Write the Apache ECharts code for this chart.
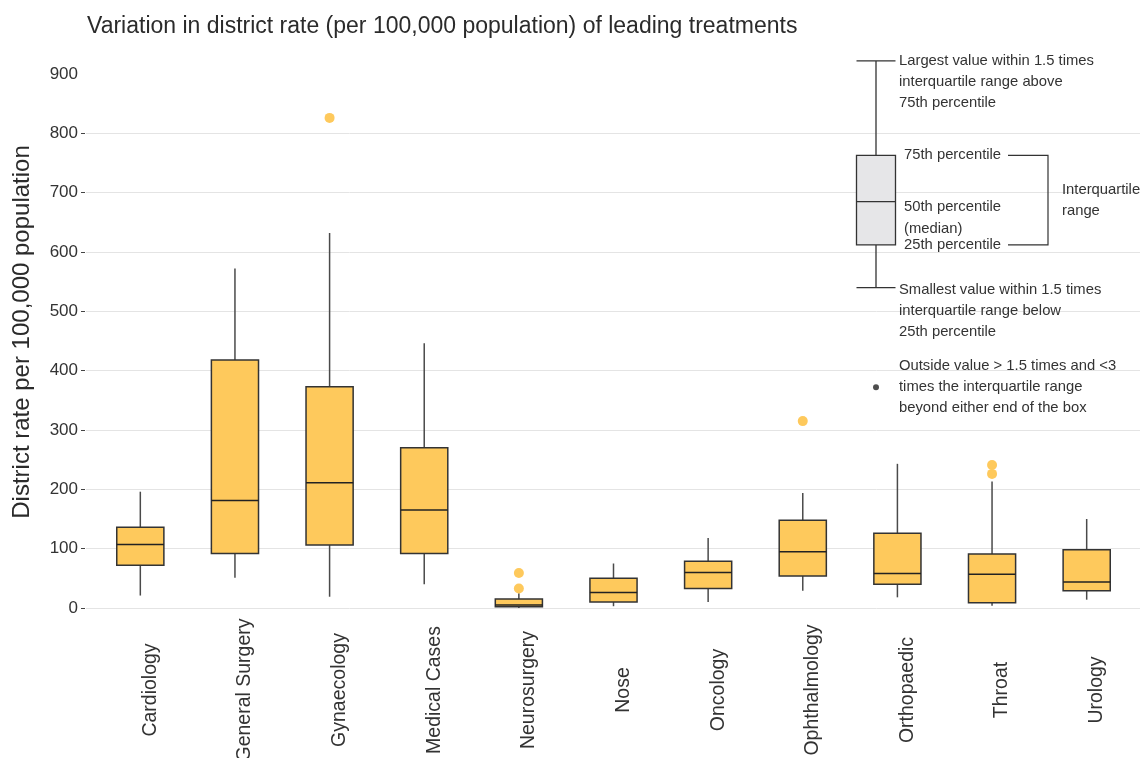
<!DOCTYPE html>
<html>
<head>
<meta charset="utf-8">
<script src="https://cdn.jsdelivr.net/npm/echarts@6/dist/echarts.min.js"></script>
<style>
  html, body { margin: 0; padding: 0; background: #fff; }
  #chart { width: 1145px; height: 758px; }
</style>
</head>
<body>
<div id="chart"></div>
<script>
// Treatment groups along the x axis
const categories = ['Cardiology', 'General Surgery', 'Gynaecology', 'Medical Cases', 'Neurosurgery',
  'Nose', 'Oncology', 'Ophthalmology', 'Orthopaedic', 'Throat', 'Urology'];

// Box statistics per treatment (rate per 100,000 population)
const whiskerLow  = [21, 51, 19, 40, 0, 3, 10, 29, 18, 4, 14];
const quartile1   = [72, 92, 106, 92, 2, 10, 33, 54, 40, 9, 29];
const medians     = [107, 181, 211, 165, 5, 26, 60, 95, 58, 57, 44];
const quartile3   = [136, 418, 373, 270, 15, 50, 79, 148, 126, 91, 98];
const whiskerHigh = [196, 572, 632, 446, 25, 75, 118, 194, 243, 213, 150];

// Outside values: category index and rate
const outlierCategory = [2, 4, 4, 7, 9, 9];
const outlierValue    = [826, 59, 33, 315, 241, 226];

// Key box: [low whisker, 25th, 50th, 75th, high whisker] and the outside-value dot
const keyBox = [540, 612, 685, 763, 922];
const keyDot = 372;

// Value axis ticks
const yTicks = [0, 100, 200, 300, 400, 500, 600, 700, 800, 900];

const FONT = '"Liberation Sans", Arial, Helvetica, sans-serif';
const BOX_FILL = '#fec95c';
const TEXT = '#333333';

const boxData = categories.map((c, i) =>
  [i, whiskerLow[i], quartile1[i], medians[i], quartile3[i], whiskerHigh[i]]);
const outlierData = outlierCategory.map((c, i) => [c, outlierValue[i]]);

// No line at the top tick (900)
const gridColors = yTicks.map((t, i) => i === yTicks.length - 1 ? 'rgba(0,0,0,0)' : '#e4e4e4');
const tickColors = yTicks.map((t, i) => i === yTicks.length - 1 ? 'rgba(0,0,0,0)' : '#444');

const chart = echarts.init(document.getElementById('chart'), null, { renderer: 'canvas' });

const gridBase = { containLabel: false, outerBoundsMode: 'none' };

const option = {
  animation: false,
  backgroundColor: '#ffffff',
  title: {
    text: 'Variation in district rate (per 100,000 population) of leading treatments',
    left: 82, top: 10,
    textStyle: { fontFamily: FONT, fontSize: 23, fontWeight: 'normal', color: '#2b2b2b' }
  },
  grid: [
    Object.assign({ left: 86, right: 5, top: 74, bottom: 150 }, gridBase),        // gridlines + y labels
    Object.assign({ left: 93, right: 11, top: 74, bottom: 150 }, gridBase),       // boxes
    Object.assign({ left: 856, width: 40, top: 44.33, bottom: 328 }, gridBase),   // key box
    Object.assign({ left: 81, width: 4, top: 74, bottom: 150 }, gridBase)         // y tick marks
  ],
  xAxis: [
    { gridIndex: 0, type: 'value', show: false, min: 0, max: 1 },
    {
      gridIndex: 1, type: 'category', data: categories, boundaryGap: true,
      axisLine: { show: false }, axisTick: { show: false }, splitLine: { show: false },
      axisLabel: {
        interval: 0, rotate: 90, margin: 82, align: 'center', verticalAlign: 'top',
        fontFamily: FONT, fontSize: 19.5, color: TEXT
      }
    },
    { gridIndex: 2, type: 'category', data: [''], show: false },
    { gridIndex: 3, type: 'value', show: false, min: 0, max: 1 }
  ],
  yAxis: [
    {
      gridIndex: 0, type: 'value', min: 0, max: 900, interval: 100,
      axisLine: { show: false }, axisTick: { show: false },
      axisLabel: { margin: 8, fontFamily: FONT, fontSize: 17, color: TEXT },
      splitLine: { show: true, lineStyle: { color: gridColors, width: 1 } }
    },
    { gridIndex: 1, type: 'value', min: 0, max: 900, show: false },
    { gridIndex: 2, type: 'value', min: 300, max: 950, show: false },
    {
      gridIndex: 3, type: 'value', min: 0, max: 900, interval: 100,
      axisLine: { show: false }, axisTick: { show: false }, axisLabel: { show: false },
      splitLine: { show: true, lineStyle: { color: tickColors, width: 1 } }
    }
  ],
  series: [
    {
      name: 'rates', type: 'custom', xAxisIndex: 1, yAxisIndex: 1,
      data: boxData,
      encode: { x: 0, y: [1, 2, 3, 4, 5] },
      renderItem: function (params, api) {
        const x = api.value(0);
        const lo = api.coord([x, api.value(1)]);
        const q1 = api.coord([x, api.value(2)]);
        const md = api.coord([x, api.value(3)]);
        const q3 = api.coord([x, api.value(4)]);
        const hi = api.coord([x, api.value(5)]);
        const half = api.size([1, 0])[0] * 0.249;
        const whisker = { stroke: '#4a4a4a', lineWidth: 1.5 };
        return {
          type: 'group',
          children: [
            { type: 'line', shape: { x1: lo[0], y1: lo[1], x2: q1[0], y2: q1[1] }, style: whisker },
            { type: 'line', shape: { x1: q3[0], y1: q3[1], x2: hi[0], y2: hi[1] }, style: whisker },
            {
              type: 'rect',
              shape: { x: q3[0] - half, y: q3[1], width: 2 * half, height: q1[1] - q3[1] },
              style: { fill: BOX_FILL, stroke: '#333', lineWidth: 1.5 }
            },
            {
              type: 'line',
              shape: { x1: md[0] - half, y1: md[1], x2: md[0] + half, y2: md[1] },
              style: { stroke: '#222', lineWidth: 1.5 }
            }
          ]
        };
      },
      z: 2
    },
    {
      name: 'outside', type: 'scatter', xAxisIndex: 1, yAxisIndex: 1,
      data: outlierData, symbol: 'circle', symbolSize: 10,
      itemStyle: { color: BOX_FILL, opacity: 1 }, z: 3
    },
    {
      name: 'key', type: 'boxplot', xAxisIndex: 2, yAxisIndex: 2,
      data: [keyBox], boxWidth: [39, 39],
      itemStyle: { color: '#e6e6e8', borderColor: '#333', borderWidth: 1.3 },
      z: 2
    },
    {
      name: 'keyDot', type: 'scatter', xAxisIndex: 2, yAxisIndex: 2,
      data: [[0, keyDot]], symbolSize: 6,
      itemStyle: { color: '#222' }, z: 3
    }
  ]
};

chart.setOption(option);

// Key annotations placed from the key box's own values
const px = v => chart.convertToPixel({ xAxisIndex: 2, yAxisIndex: 2 }, [0, v]);
const pHigh = px(keyBox[4]), pQ3 = px(keyBox[3]), pMed = px(keyBox[2]), pQ1 = px(keyBox[1]), pLow = px(keyBox[0]);
const pDot = px(keyDot);
const textX = pHigh[0] + 23;
const innerX = pHigh[0] + 28;
const LINE = 21;

function label(text, x, y) {
  return {
    type: 'text', x: x, y: y, silent: true,
    style: { text: text, fill: TEXT, fontFamily: FONT, fontSize: 14.8, verticalAlign: 'middle', align: 'left' }
  };
}

const bracketX1 = innerX + 104, bracketX2 = innerX + 144;

chart.setOption({
  graphic: [
    {
      type: 'text', x: 22, y: 332, rotation: Math.PI / 2, silent: true,
      style: {
        text: 'District rate per 100,000 population', fill: '#2b2b2b',
        fontFamily: FONT, fontSize: 24, align: 'center', verticalAlign: 'middle'
      }
    },
    label('Largest value within 1.5 times', textX, pHigh[1]),
    label('interquartile range above', textX, pHigh[1] + LINE),
    label('75th percentile', textX, pHigh[1] + 2 * LINE),
    label('75th percentile', innerX, pQ3[1]),
    label('50th percentile', innerX, pMed[1] + 5),
    label('(median)', innerX, pMed[1] + 27),
    label('25th percentile', innerX, pQ1[1]),
    label('Interquartile', bracketX2 + 14, (pQ3[1] + pQ1[1]) / 2 - 10),
    label('range', bracketX2 + 14, (pQ3[1] + pQ1[1]) / 2 + 11),
    label('Smallest value within 1.5 times', textX, pLow[1] + 2),
    label('interquartile range below', textX, pLow[1] + 2 + LINE),
    label('25th percentile', textX, pLow[1] + 2 + 2 * LINE),
    label('Outside value > 1.5 times and <3', textX, pDot[1] - LINE),
    label('times the interquartile range', textX, pDot[1]),
    label('beyond either end of the box', textX, pDot[1] + LINE),
    {
      type: 'polyline', silent: true,
      shape: { points: [[bracketX1, pQ3[1]], [bracketX2, pQ3[1]], [bracketX2, pQ1[1]], [bracketX1, pQ1[1]]] },
      style: { stroke: '#333', lineWidth: 1.2, fill: null }
    }
  ]
});
</script>
</body>
</html>
